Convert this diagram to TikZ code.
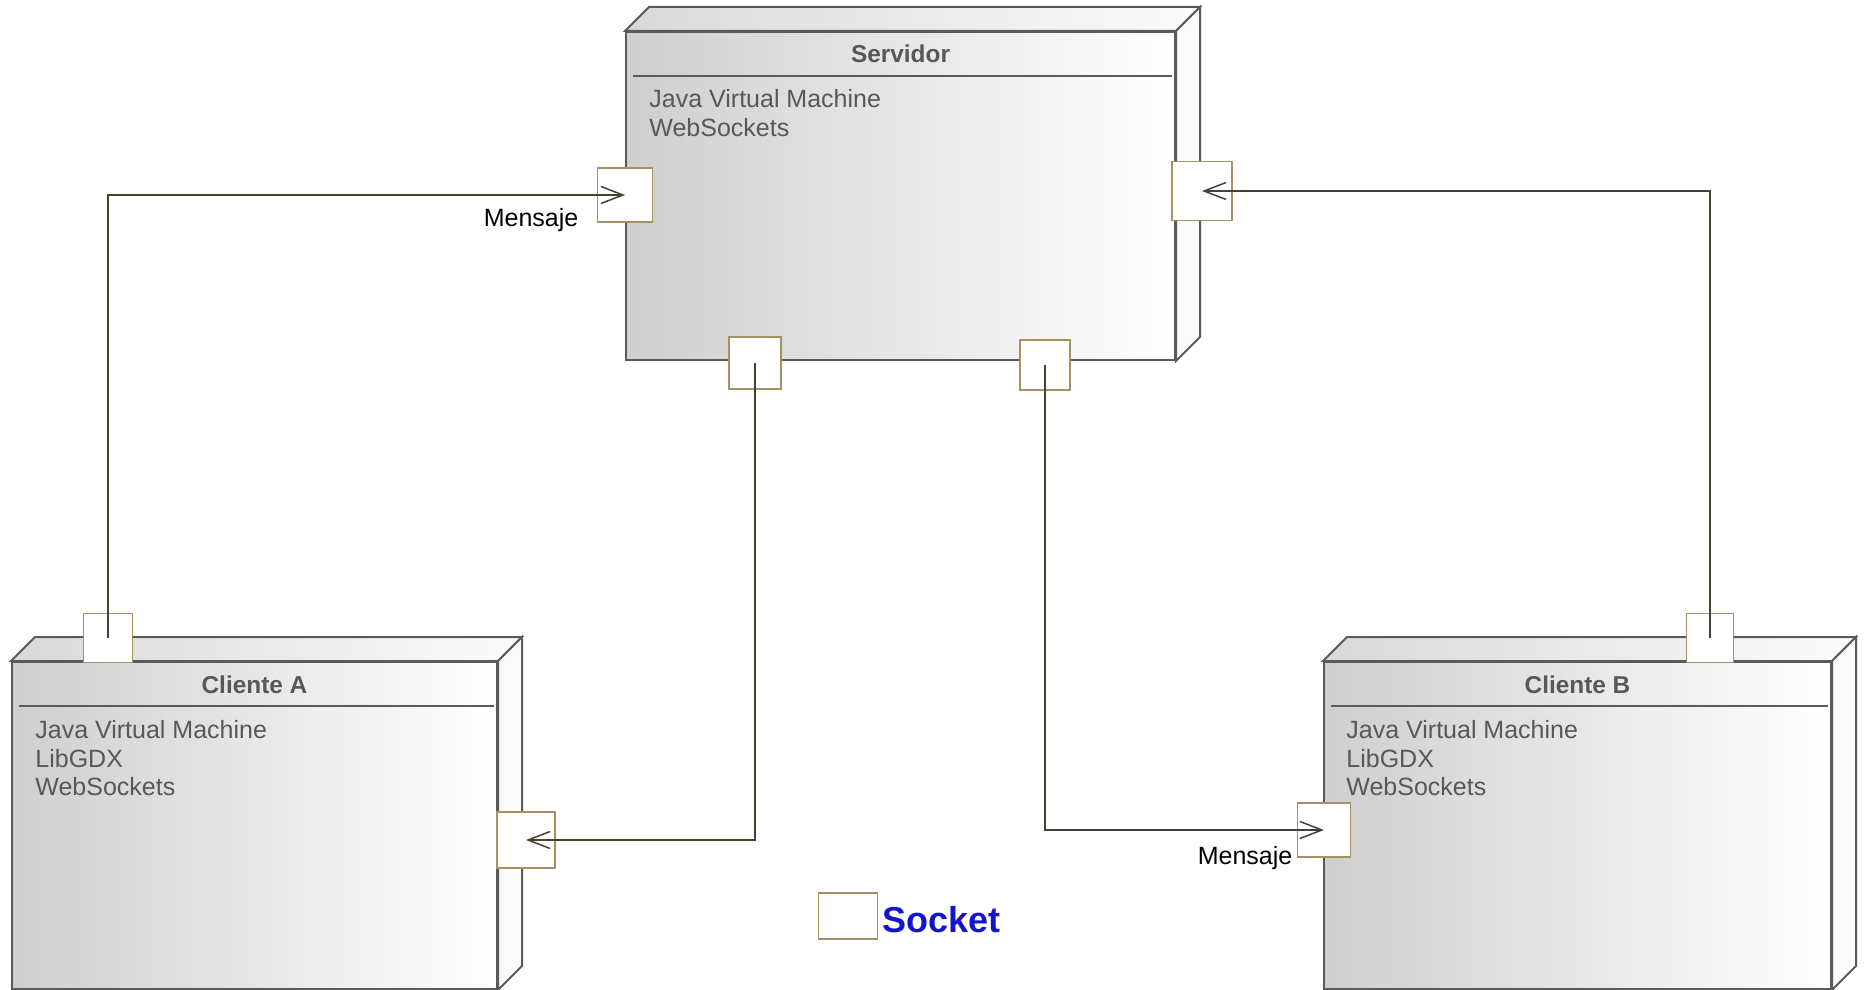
\documentclass[tikz,border=0pt]{standalone}
\usepackage{fontspec}
\setmainfont{Liberation Sans}
\usetikzlibrary{positioning,calc,arrows.meta}

\definecolor{nodeline}{RGB}{90,90,90}
\definecolor{nodetext}{RGB}{88,88,88}
\definecolor{portline}{RGB}{165,145,100}
\definecolor{wire}{RGB}{72,64,50}
\definecolor{legendblue}{RGB}{20,20,205}

\tikzset{
  device/.style={draw=nodeline, line width=1pt, left color=gray!38, right color=white, inner sep=0pt},
  topface/.style={draw=nodeline, line width=1pt, left color=gray!30, right color=gray!3},
  sideface/.style={draw=nodeline, line width=1pt, fill=gray!3},
  devtitle/.style={font=\bfseries\fontsize{12.2}{14}\selectfont, text=nodetext, inner sep=0pt},
  devbody/.style={font=\fontsize{12.5}{14.25}\selectfont, text=nodetext, align=left, inner sep=0pt, anchor=north west},
  sepline/.style={draw=nodeline, line width=0.9pt},
  sockbox/.style={draw=portline, fill=white, line width=0.8pt, minimum width=26pt, minimum height=26pt, inner sep=0pt},
  msg/.style={draw=wire, line width=0.75pt, -{Straight Barb[length=11pt,width=8.5pt]}},
  msglabel/.style={font=\fontsize{12.5}{15}\selectfont, inner sep=0pt}
}

\begin{document}
\begin{tikzpicture}[x=0.5pt, y=-0.5pt]
  \useasboundingbox (0,0) rectangle (1864,990);

  % nodes of the deployment
  \node[device, minimum width=274.5pt, minimum height=164pt] (srv) at (900.5,196) {};
  \node[device, minimum width=242.5pt, minimum height=163.5pt] (cla) at (254.5,825.5) {};
  \node[device, minimum width=253.5pt, minimum height=163.5pt] (clb) at (1577.5,825.5) {};

  \foreach \n in {srv,cla,clb} {
    \draw[topface] (\n.north west) -- ++(24,-24) -- ($(\n.north east)+(24,-24)$) -- (\n.north east) -- cycle;
    \draw[sideface] (\n.north east) -- ++(24,-24) -- ($(\n.south east)+(24,-24)$) -- (\n.south east) -- cycle;
    \draw[sepline] ($(\n.north west)+(8,45)$) -- ($(\n.north east)+(-4,45)$);
  }

  \node[devtitle] (srv-name) at ($(srv.north)+(0,23)$) {Servidor};
  \node[devtitle] (cla-name) at ($(cla.north)+(0,24)$) {Cliente A};
  \node[devtitle] (clb-name) at ($(clb.north)+(0,24)$) {Cliente B};

  \node[devbody] (srv-libs) at ($(srv.north west)+(24,58)$) {Java Virtual Machine\\WebSockets};
  \node[devbody] (cla-libs) at ($(cla.north west)+(24,59)$) {Java Virtual Machine\\LibGDX\\WebSockets};
  \node[devbody] (clb-libs) at ($(clb.north west)+(23,59)$) {Java Virtual Machine\\LibGDX\\WebSockets};

  % sockets
  \node[sockbox, minimum width=27.5pt, minimum height=27pt] (srv-in1) at (625,195) {};
  \node[sockbox, minimum width=30pt, minimum height=29.5pt] (srv-in2) at (1202,191) {};
  \node[sockbox] (srv-out1) at (755,363) {};
  \node[sockbox, minimum width=25pt, minimum height=25pt] (srv-out2) at (1045,365) {};
  \node[sockbox, minimum width=24.5pt, minimum height=24.5pt] (cla-out) at (108,638) {};
  \node[sockbox, minimum width=29pt, minimum height=28pt] (cla-in) at (526,840) {};
  \node[sockbox, minimum width=23.5pt, minimum height=24.5pt] (clb-out) at (1710,638) {};
  \node[sockbox, minimum width=26.5pt, minimum height=27pt] (clb-in) at (1324,830) {};

  \draw[msg] (cla-out.center) |- (srv-in1.center);
  \draw[msg] (srv-out1.center) |- (cla-in.center);
  \draw[msg] (srv-out2.center) |- (clb-in.center);
  \draw[msg] (clb-out.center) |- (srv-in2.center);

  \node[msglabel, left=9pt of srv-in1.south west, yshift=1.5pt] (msg1) {Mensaje};
  \node[msglabel, left=2pt of clb-in.south west] (msg2) {Mensaje};

  % legend
  \node[sockbox, minimum width=29.5pt, minimum height=23pt] (legend) at (848,916) {};
  \node[font=\bfseries\fontsize{18}{20}\selectfont, text=legendblue, inner sep=0pt, right=2pt of legend, yshift=-2pt] (legend-text) {Socket};

\end{tikzpicture}
\end{document}
